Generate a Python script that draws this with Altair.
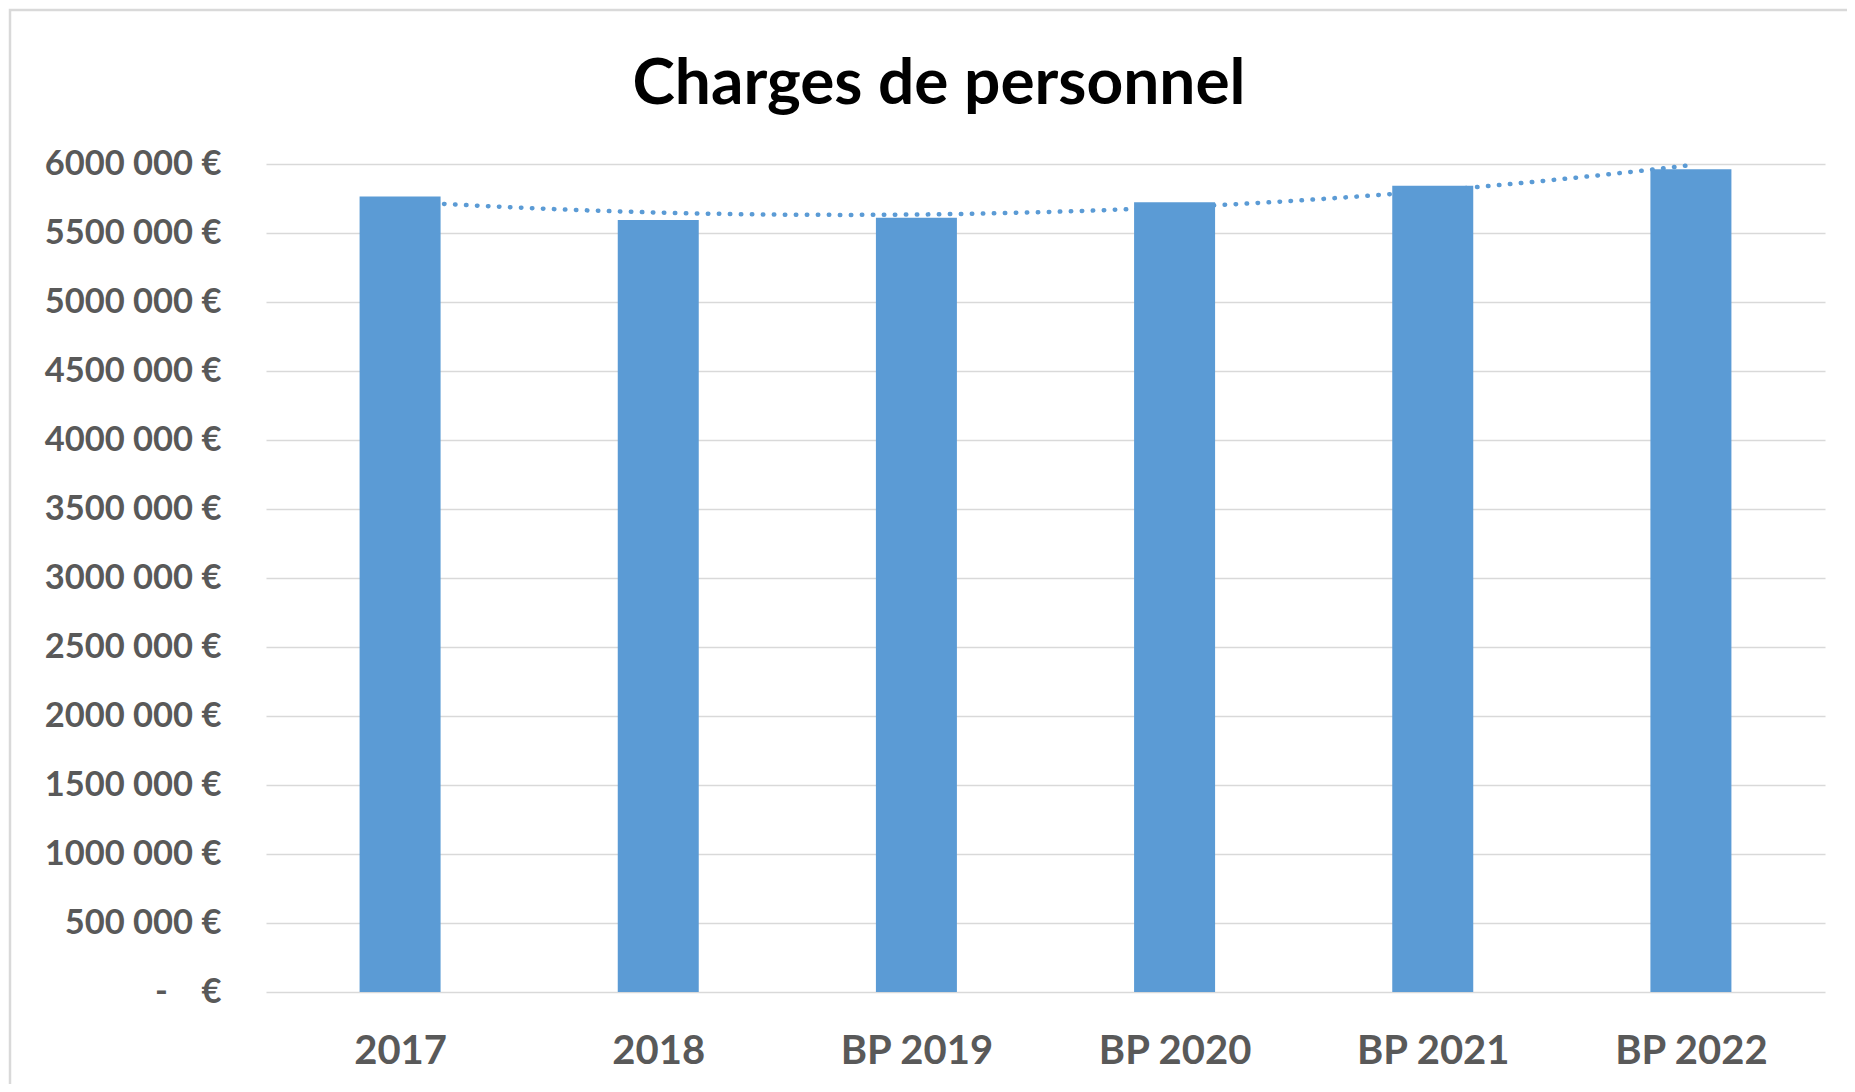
import altair as alt
import pandas as pd

title_text = "Charges de personnel"
categories = ["2017", "2018", "BP 2019", "BP 2020", "BP 2021", "BP 2022"]
values = [5765000, 5595000, 5610000, 5722000, 5842000, 5962000]
y_ticks = list(range(0, 6000001, 500000))

df = pd.DataFrame({"idx": list(range(len(categories))), "cat": categories, "value": values})

BLUE = "#5B9BD5"
GREY = "#595959"
FONT = "Lato"

label_array = "[" + ",".join("'" + c + "'" for c in categories) + "]"

x_enc = alt.X(
    "idx:Q",
    scale=alt.Scale(domain=[-0.5, len(categories) - 0.5], nice=False, zero=False),
    axis=alt.Axis(
        values=list(range(len(categories))),
        labelExpr=label_array + "[datum.value]",
        title=None, grid=False, domain=False, ticks=False, tickSize=0,
        labelFont=FONT, labelFontSize=40, labelFontWeight="bold", labelColor=GREY,
        labelBaseline="alphabetic", labelPadding=71,
    ),
)
y_enc = alt.Y(
    "value:Q",
    scale=alt.Scale(domain=[0, 6000000], nice=False),
    axis=alt.Axis(
        values=y_ticks,
        labelExpr="datum.value == 0 ? '-\u00a0\u00a0\u00a0\u00a0€' : floor(datum.value/1000) + ' 000 €'",
        title=None, domain=False, ticks=False, tickSize=0,
        gridColor="#D9D9D9", gridWidth=1.5,
        labelFont=FONT, labelFontSize=34.5, labelFontWeight="bold", labelColor=GREY,
        labelPadding=45,
    ),
)

base = alt.Chart(df)

trend = base.transform_regression("idx", "value", method="poly", order=2).mark_line(
    color=BLUE, strokeWidth=4.5, strokeDash=[0.5, 10.5], strokeCap="round"
).encode(x=x_enc, y=y_enc)

bars = base.mark_bar(color=BLUE, size=81).encode(x=x_enc, y=y_enc)

one = pd.DataFrame({"a": [0]})

frame = alt.Chart(one).mark_rect(
    fillOpacity=0, stroke="#D9D9D9", strokeWidth=2.5, clip=False
).encode(
    x=alt.value(-256), x2=alt.value(1700), y=alt.value(-154), y2=alt.value(1000)
)

title = alt.Chart(one).mark_text(
    text=title_text, font=FONT, fontSize=64, fontWeight="bold", color="black",
    align="center", baseline="alphabetic", clip=False,
).encode(x=alt.value(673), y=alt.value(-60))

chart = alt.layer(frame, trend, bars, title).properties(
    width=1559,
    height=828,
    autosize=alt.AutoSizeParams(type="none"),
    padding={"left": 258, "top": 156, "right": 22, "bottom": 92},
    background="white",
).configure_view(stroke=None)

chart.save("out.html", embed_options={"renderer": "svg", "actions": False})
